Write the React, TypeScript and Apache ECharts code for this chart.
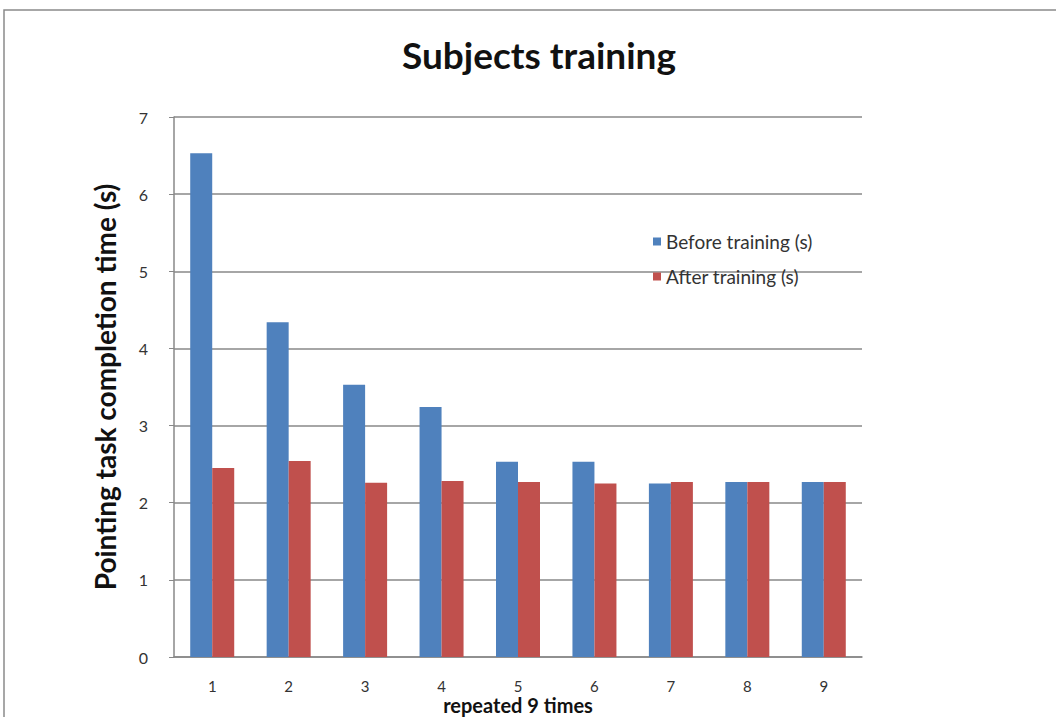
import React, { useEffect, useRef } from "react";
import * as echarts from "echarts";

const categories = ["1", "2", "3", "4", "5", "6", "7", "8", "9"];
const beforeTraining = [6.53, 4.34, 3.53, 3.24, 2.53, 2.53, 2.25, 2.27, 2.27];
const afterTraining = [2.45, 2.54, 2.26, 2.28, 2.27, 2.25, 2.27, 2.27, 2.27];
const seriesNames = ["Before training (s)", "After training (s)"];

const FONT = "Lato, 'Open Sans', 'Liberation Sans', sans-serif";

export default function App() {
  const ref = useRef<HTMLDivElement>(null);
  useEffect(() => {
    if (!ref.current) return;
    const chart = echarts.init(ref.current, undefined, { renderer: "svg" });
    chart.setOption({
      animation: false,
      backgroundColor: "#ffffff",
      textStyle: { fontFamily: FONT },
      title: {
        text: "Subjects training",
        left: 534,
        top: 31,
        textAlign: "center",
        textStyle: { fontSize: 37, fontWeight: "bold", color: "#111", fontFamily: FONT },
      },
      graphic: [
        {
          type: "rect",
          shape: { x: 4, y: 10, width: 1100, height: 760 },
          style: { fill: "none", stroke: "#8a8a8a", lineWidth: 1.5 },
          silent: true,
          z: -10,
        },
      ],
      legend: {
        orient: "vertical",
        left: 648,
        top: 227,
        itemWidth: 8,
        itemHeight: 8,
        itemGap: 16,
        icon: "rect",
        textStyle: { fontSize: 19, color: "#333", fontFamily: FONT },
        data: seriesNames,
      },
      grid: {
        left: 174,
        top: 117,
        width: 688,
        height: 540,
        containLabel: false,
        outerBoundsMode: "none",
      },
      xAxis: {
        type: "category",
        data: categories,
        axisLine: { show: true, lineStyle: { color: "#888", width: 1.5 } },
        axisTick: { show: false },
        axisLabel: { color: "#333", fontSize: 15, lineHeight: 15, margin: 21, fontFamily: FONT },
        name: "repeated 9 times",
        nameLocation: "middle",
        nameGap: 38,
        nameMoveOverlap: false,
        nameTextStyle: {
          fontSize: 20,
          lineHeight: 20,
          fontWeight: "bold",
          color: "#111",
          fontFamily: FONT,
        },
      },
      yAxis: {
        type: "value",
        min: 0,
        max: 7,
        interval: 1,
        axisLine: { show: true, lineStyle: { color: "#888", width: 1.5 } },
        axisTick: { show: true, length: 5, lineStyle: { color: "#888" } },
        axisLabel: { color: "#333", fontSize: 16, margin: 26, fontFamily: FONT },
        splitLine: { show: true, lineStyle: { color: "#888", width: 1.5 } },
        name: "Pointing task completion time (s)",
        nameLocation: "middle",
        nameGap: 55,
        nameMoveOverlap: false,
        nameTextStyle: { fontSize: 28, fontWeight: "bold", color: "#111", fontFamily: FONT },
      },
      series: [
        {
          name: seriesNames[0],
          type: "bar",
          data: beforeTraining,
          barWidth: 22,
          barGap: "0%",
          itemStyle: { color: "#4F81BD" },
        },
        {
          name: seriesNames[1],
          type: "bar",
          data: afterTraining,
          barWidth: 22,
          barGap: "0%",
          itemStyle: { color: "#C0504D" },
        },
      ],
    });
    return () => chart.dispose();
  }, []);
  return (
    <div
      ref={ref}
      style={{ position: "fixed", left: 0, top: 0, width: 1056, height: 717 }}
    />
  );
}
